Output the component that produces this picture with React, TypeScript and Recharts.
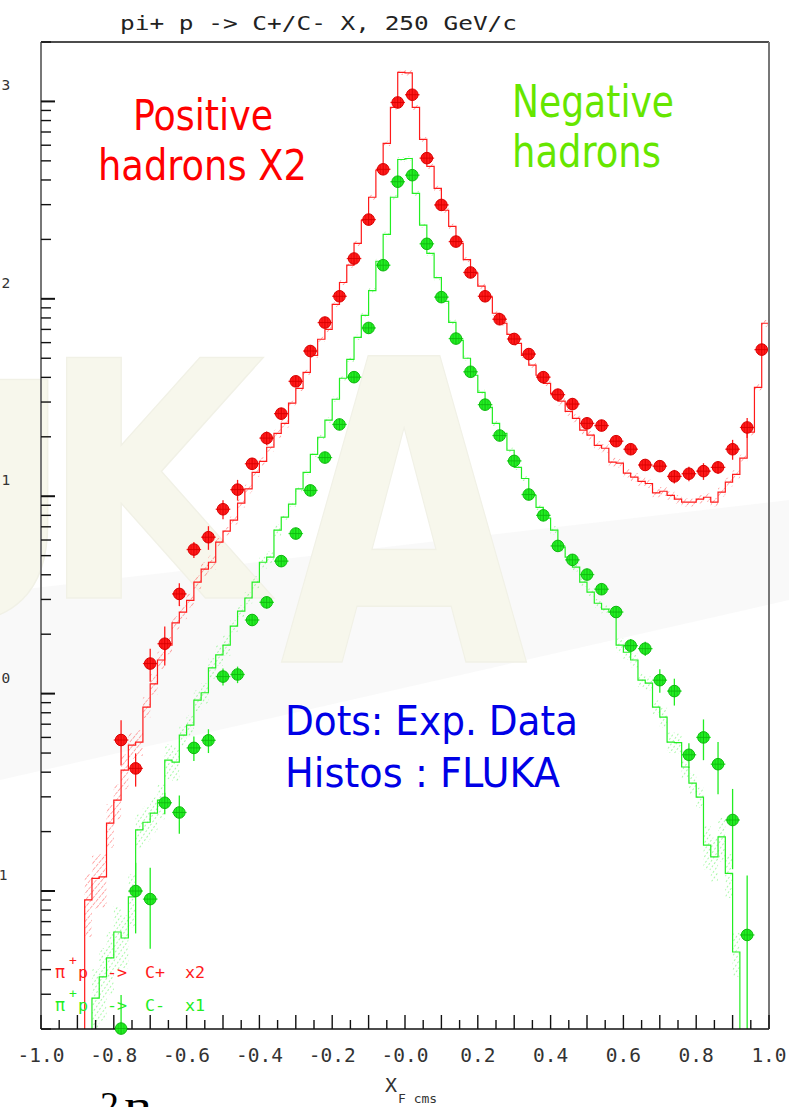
import { Area, ComposedChart, ErrorBar, Line, Scatter, XAxis, YAxis } from "recharts";

const W = 789;
const H = 1107;
const Y_MIN = 0.02;
const Y_MAX = 2000;
const BIN = 0.02;

// FLUKA histogram, positive hadrons (x2), 0.02 wide bins starting at x_F = -0.88
const posHistStart = -0.88;
const posHist = [
  0.0901, 0.116, 0.118, 0.221, 0.289, 0.41, 0.548, 0.568, 0.855, 1.12,
  1.48, 1.76, 2.28, 2.59, 2.97, 3.67, 4.27, 4.63, 5.85, 6.65,
  7.56, 9.22, 10.9, 13.2, 15.0, 17.7, 20.8, 23.4, 29.6, 35.2,
  42.4, 51.7, 62.4, 70.1, 93.8, 121, 148, 191, 250, 327,
  448, 613, 932, 1402, 1395, 932, 642, 469, 363, 281,
  233, 191, 158, 135, 116, 102, 84.5, 75.2, 66.1, 59.5,
  51.7, 46.1, 41.0, 37.3, 33.2, 30.3, 26.9, 24.8, 21.6, 20.4,
  18.1, 17.5, 14.9, 14.7, 13.1, 12.5, 11.9, 11.6, 10.4, 10.6,
  10.1, 9.66, 9.33, 9.33, 9.66, 9.88, 9.33, 10.5, 11.8, 12.9,
  15.6, 21.1, 35.6, 75.2,
];
// relative half-width of the statistical band for each bin
const posHistErr = [
  0.35, 0.3, 0.3, 0.25, 0.2, 0.2, 0.15, 0.15, 0.12, 0.12,
  0.1, 0.1, 0.08, 0.08, 0.08, 0.08, 0.08, 0.08, 0.05, 0.05,
  0.05, 0.05, 0.05, 0.05, 0.05, 0.05, 0.05, 0.05, 0.03, 0.03,
  0.03, 0.03, 0.03, 0.03, 0.03, 0.03, 0.03, 0.03, 0.03, 0.03,
  0.03, 0.03, 0.03, 0.03, 0.03, 0.03, 0.03, 0.03, 0.03, 0.03,
  0.03, 0.03, 0.03, 0.03, 0.03, 0.03, 0.03, 0.03, 0.03, 0.03,
  0.03, 0.03, 0.03, 0.03, 0.03, 0.05, 0.05, 0.05, 0.05, 0.05,
  0.05, 0.05, 0.05, 0.05, 0.05, 0.05, 0.05, 0.05, 0.05, 0.05,
  0.05, 0.05, 0.05, 0.05, 0.05, 0.05, 0.05, 0.05, 0.05, 0.05,
  0.04, 0.04, 0.04, 0.04,
];

// FLUKA histogram, negative hadrons, 0.02 wide bins starting at x_F = -0.86
const negHistStart = -0.86;
const negHist = [
  0.0287, 0.0367, 0.0458, 0.062, 0.0578, 0.0933, 0.204, 0.223, 0.248, 0.289,
  0.46, 0.45, 0.616, 0.693, 0.927, 1.01, 1.35, 1.57, 1.76, 2.2,
  2.62, 3.05, 3.67, 4.63, 4.91, 6.73, 7.83, 9.11, 10.9, 13.2,
  16.3, 19.9, 24.3, 31.0, 39.6, 49.4, 63.8, 82.5, 110, 155,
  212, 327, 508, 514, 342, 236, 170, 128, 97.1, 76.0,
  61.6, 50.0, 41.0, 33.6, 28.2, 23.4, 20.8, 17.1, 14.0, 12.3,
  10.1, 8.79, 7.74, 6.73, 5.52, 4.91, 4.37, 3.67, 3.27, 2.87,
  2.68, 2.59, 1.76, 1.62, 1.48, 1.17, 1.13, 0.855, 0.76, 0.568,
  0.565, 0.425, 0.352, 0.299, 0.171, 0.149, 0.188, 0.123, 0.0491,
];
const negHistErr = [
  0.4, 0.4, 0.35, 0.35, 0.3, 0.3, 0.2, 0.2, 0.2, 0.2,
  0.2, 0.2, 0.12, 0.12, 0.12, 0.12, 0.12, 0.12, 0.12, 0.07,
  0.07, 0.07, 0.07, 0.07, 0.07, 0.07, 0.03, 0.03, 0.03, 0.03,
  0.03, 0.03, 0.03, 0.03, 0.03, 0.03, 0.03, 0.03, 0.03, 0.03,
  0.03, 0.03, 0.03, 0.03, 0.03, 0.03, 0.03, 0.03, 0.03, 0.03,
  0.03, 0.03, 0.03, 0.03, 0.03, 0.03, 0.03, 0.03, 0.03, 0.03,
  0.03, 0.03, 0.03, 0.05, 0.05, 0.05, 0.05, 0.05, 0.05, 0.05,
  0.05, 0.05, 0.08, 0.08, 0.08, 0.08, 0.08, 0.08, 0.12, 0.12,
  0.12, 0.12, 0.12, 0.12, 0.25, 0.25, 0.25, 0.25, 0.25,
];

// measured points, bin centres in x_F
const pointX = [
  -0.78, -0.74, -0.7, -0.66, -0.62, -0.58, -0.54, -0.5, -0.46, -0.42,
  -0.38, -0.34, -0.3, -0.26, -0.22, -0.18, -0.14, -0.1, -0.06, -0.02,
  0.02, 0.06, 0.1, 0.14, 0.18, 0.22, 0.26, 0.3, 0.34, 0.38,
  0.42, 0.46, 0.5, 0.54, 0.58, 0.62, 0.66, 0.7, 0.74, 0.78,
  0.82, 0.86, 0.9, 0.94, 0.98,
];
const posValues = [
  0.582, 0.418, 1.42, 1.79, 3.2, 5.37, 6.2, 8.59, 10.8, 14.6,
  19.7, 26.2, 38.2, 54.4, 75.8, 103, 160, 252, 453, 988,
  1081, 516, 299, 195, 136, 103, 78.8, 62.6, 52.5, 40.1,
  32.7, 29.3, 23.4, 22.8, 19.0, 17.3, 14.4, 14.2, 12.6, 13.0,
  13.4, 14.0, 17.3, 22.3, 55.3,
];
const posErrors = [
  0.15, 0.08, 0.27, 0.4, 0.42, 0.5, 0.85, 0.95, 1.3, 1.0,
  1.6, 1.8, 1.5, 2.0, 2.5, 3.5, 5, 8, 14, 30,
  33, 16, 9, 6, 4, 3, 2.5, 2, 1.7, 1.3,
  1.1, 1.0, 0.8, 0.8, 0.7, 0.7, 0.6, 0.6, 1.0, 1.1,
  1.3, 1.0, 2.0, 2.6, 4,
];
const negValues = [
  0.0201, 0.1, 0.091, 0.28, 0.25, 0.531, 0.58, 1.22, 1.25, 2.36,
  2.9, 4.69, 6.47, 10.7, 15.7, 23.1, 40.1, 71.2, 148, 392,
  423, 190, 102, 62.9, 42.7, 29.1, 20.3, 15.1, 10.2, 8.0,
  5.6, 4.76, 4.01, 3.38, 2.59, 1.75, 1.69, 1.17, 1.03, 0.49,
  0.6, 0.439, 0.229, 0.0599,
];
const negErrors = [
  0.0096, 0.039, 0.04, 0.035, 0.055, 0.075, 0.08, 0.12, 0.12, 0.15,
  0.2, 0.25, 0.3, 0.4, 0.5, 0.7, 1.2, 2, 4, 10,
  11, 5, 3, 2, 1.3, 0.9, 0.7, 0.5, 0.4, 0.3,
  0.25, 0.25, 0.2, 0.2, 0.15, 0.14, 0.14, 0.16, 0.16, 0.07,
  0.14, 0.13, 0.1, 0.06,
];

const xLabelValues = [-1, -0.8, -0.6, -0.4, -0.2, 0, 0.2, 0.4, 0.6, 0.8, 1];
const xLabelText = ["-1.0", "-0.8", "-0.6", "-0.4", "-0.2", "-0.0", "0.2", "0.4", "0.6", "0.8", "1.0"];
const yDecades = [0.01, 0.1, 1, 10, 100, 1000];
const yMantissas = [1, 2, 3, 4, 5, 6, 7, 8, 9];

const RED = "#ff1a1a";
const RED_EDGE = "#d80000";
const GREEN = "#22ee22";
const GREEN_EDGE = "#10b810";
const MONO = "DejaVu Sans Mono";

const round3 = (v: number) => Math.round(v * 1000) / 1000;

const xTicks = Array.from({ length: 41 }, (_, i) => round3(-1 + i * 0.05));
const yTicks = yDecades
  .flatMap((d) => yMantissas.map((m) => Number((d * m).toPrecision(2))))
  .filter((v) => v >= Y_MIN && v <= Y_MAX);

type StepPoint = { x: number; y: number; band: [number, number] };

// step outline of a histogram, opened from the axis floor on the left
function histSteps(start: number, values: number[], rel: number[], closeRight: boolean) {
  const band = (v: number, e: number): [number, number] => [Math.max(Y_MIN, v * (1 - e)), v * (1 + e)];
  const pts: StepPoint[] = [{ x: round3(start), y: Y_MIN, band: [Y_MIN, Y_MIN] }];
  values.forEach((v, i) => pts.push({ x: round3(start + i * BIN), y: v, band: band(v, rel[i]) }));
  const last = values.length - 1;
  const end = round3(start + values.length * BIN);
  pts.push({ x: end, y: values[last], band: band(values[last], rel[last]) });
  if (closeRight) pts.push({ x: end, y: Y_MIN, band: [Y_MIN, Y_MIN] });
  return pts;
}

function points(vals: number[], errs: number[]) {
  return vals.map((v, i) => ({
    x: pointX[i],
    y: v,
    ex: BIN,
    ey: [Math.min(errs[i], v - Y_MIN), errs[i]],
  }));
}

const posSteps = histSteps(posHistStart, posHist, posHistErr, false);
const negSteps = histSteps(negHistStart, negHist, negHistErr, true);
const posPoints = points(posValues, posErrors);
const negPoints = points(negValues, negErrors);

function makeMarker(fill: string, edge: string) {
  return (props: any) => {
    const { cx, cy } = props;
    if (cx == null || cy == null) return <g />;
    const r = 5.8;
    return (
      <g>
        <circle cx={cx} cy={cy} r={r} fill={fill} stroke={edge} strokeWidth={1} />
        <line x1={cx - r} x2={cx + r} y1={cy} y2={cy} stroke={edge} strokeWidth={0.9} />
        <line x1={cx} x2={cx} y1={cy - r} y2={cy + r} stroke={edge} strokeWidth={0.9} />
        <line x1={cx - 2.8} x2={cx - 2.8} y1={cy - 4.9} y2={cy + 4.9} stroke={edge} strokeWidth={0.5} />
        <line x1={cx + 2.8} x2={cx + 2.8} y1={cy - 4.9} y2={cy + 4.9} stroke={edge} strokeWidth={0.5} />
      </g>
    );
  };
}

const isTenth = (v: number) => Math.abs(v * 10 - Math.round(v * 10)) < 1e-6;
const isDecade = (v: number) => Math.abs(Math.log10(v) - Math.round(Math.log10(v))) < 1e-6;

// tickSize/tickMargin are 0, so every tick renderer receives the axis-line position
function BottomTick(props: any) {
  const { x, y, payload } = props;
  const v = payload.value;
  const li = xLabelValues.findIndex((l) => Math.abs(l - v) < 1e-6);
  return (
    <g>
      <line x1={x} x2={x} y1={y} y2={y - (isTenth(v) ? 14 : 9)} stroke="#111" strokeWidth={1.4} />
      {li >= 0 && (
        <text x={x} y={y + 33} textAnchor="middle" fontFamily={MONO} fontSize={19.5} fill="#333">
          {xLabelText[li]}
        </text>
      )}
    </g>
  );
}

function TopTick(props: any) {
  const { x, y, payload } = props;
  return <line x1={x} x2={x} y1={y} y2={y + (isTenth(payload.value) ? 13 : 11)} stroke="#111" strokeWidth={1.4} />;
}

function LeftTick(props: any) {
  const { x, y, payload } = props;
  const v = payload.value;
  const major = isDecade(v);
  const exp = Math.round(Math.log10(v));
  const expX = exp < 0 ? x - 51 : x - 39.5;
  return (
    <g>
      <line x1={x} x2={x + (major ? 14 : 10)} y1={y} y2={y} stroke="#111" strokeWidth={major ? 2 : 1.4} />
      {major && (
        <g fontFamily={MONO} fill="#333">
          <text x={expX - 1} y={y + 6} textAnchor="end" fontSize={19.5}>10</text>
          <text x={expX} y={y - 11} fontSize={14.5}>{exp}</text>
        </g>
      )}
    </g>
  );
}

function RightTick(props: any) {
  const { x, y, payload } = props;
  const major = isDecade(payload.value);
  return <line x1={x} x2={x - (major ? 14 : 10)} y1={y} y2={y} stroke="#111" strokeWidth={major ? 2 : 1.4} />;
}

const layer = { position: "absolute" as const, left: 0, top: 0 };

export default function App() {
  return (
    <div style={{ ...layer, width: W, height: H, background: "#fff" }}>
      <svg width={W} height={H} style={layer}>
        <defs>
          <pattern id="hatchPos" width="4.5" height="4.5" patternUnits="userSpaceOnUse" patternTransform="rotate(40)">
            <line x1="0" y1="0" x2="0" y2="4.5" stroke={RED} strokeWidth="1.2" strokeDasharray="3.5 1.5" />
          </pattern>
          <pattern id="hatchNeg" width="4" height="4" patternUnits="userSpaceOnUse" patternTransform="rotate(35)">
            <line x1="0" y1="0" x2="0" y2="4" stroke={GREEN} strokeWidth="1.3" strokeDasharray="2 2" />
          </pattern>
        </defs>
        {/* faint logo in the background */}
        <polygon points="0,592 789,500 789,600 0,780" fill="#eeeeee" opacity={0.35} />
        <g fill="#f7f7ec" stroke="#f1f1e6" strokeWidth={1.5} fontFamily="DejaVu Sans" fontWeight="bold">
          <text x={-190} y={620} fontSize={330}>U</text>
          <text x={40} y={598} fontSize={330} textLength={225} lengthAdjust="spacingAndGlyphs">K</text>
          <text x={280} y={662} fontSize={420} textLength={248} lengthAdjust="spacingAndGlyphs">A</text>
        </g>
      </svg>

      <div style={layer}>
        <ComposedChart width={W} height={H} margin={{ top: 22, right: 10, bottom: 48, left: 21 }}>
          <XAxis
            dataKey="x"
            type="number"
            domain={[-1, 1]}
            ticks={xTicks}
            interval={0}
            height={30}
            tickSize={0}
            tickMargin={0}
            tickLine={false}
            tick={(p: any) => <BottomTick {...p} />}
            axisLine={{ stroke: "#111", strokeWidth: 1.6 }}
          />
          <XAxis
            xAxisId="top"
            orientation="top"
            dataKey="x"
            type="number"
            domain={[-1, 1]}
            ticks={xTicks}
            interval={0}
            height={20}
            tickSize={0}
            tickMargin={0}
            tickLine={false}
            tick={(p: any) => <TopTick {...p} />}
            axisLine={{ stroke: "#111", strokeWidth: 1.6 }}
          />
          <YAxis
            dataKey="y"
            type="number"
            scale="log"
            domain={[Y_MIN, Y_MAX]}
            ticks={yTicks}
            interval={0}
            width={20}
            tickSize={0}
            tickMargin={0}
            tickLine={false}
            tick={(p: any) => <LeftTick {...p} />}
            axisLine={{ stroke: "#777", strokeWidth: 2 }}
          />
          <YAxis
            yAxisId="right"
            orientation="right"
            type="number"
            scale="log"
            domain={[Y_MIN, Y_MAX]}
            ticks={yTicks}
            interval={0}
            width={10}
            tickSize={0}
            tickMargin={0}
            tickLine={false}
            tick={(p: any) => <RightTick {...p} />}
            axisLine={{ stroke: "#777", strokeWidth: 2 }}
          />

          <Area data={posSteps} dataKey="band" type="stepAfter" stroke="none" fill="url(#hatchPos)" isAnimationActive={false} />
          <Area data={negSteps} dataKey="band" type="stepAfter" stroke="none" fill="url(#hatchNeg)" isAnimationActive={false} />
          <Line data={posSteps} dataKey="y" type="stepAfter" stroke={RED} strokeWidth={1.2} dot={false} activeDot={false} isAnimationActive={false} />
          <Line data={negSteps} dataKey="y" type="stepAfter" stroke={GREEN} strokeWidth={1.2} dot={false} activeDot={false} isAnimationActive={false} />

          <Scatter data={posPoints} dataKey="y" shape={makeMarker(RED, RED_EDGE)} isAnimationActive={false}>
            <ErrorBar dataKey="ey" direction="y" width={0} stroke={RED} strokeWidth={1.3} />
            <ErrorBar dataKey="ex" direction="x" width={0} stroke={RED} strokeWidth={1.3} />
          </Scatter>
          <Scatter data={negPoints} dataKey="y" shape={makeMarker(GREEN, GREEN_EDGE)} isAnimationActive={false}>
            <ErrorBar dataKey="ey" direction="y" width={0} stroke={GREEN} strokeWidth={1.3} />
            <ErrorBar dataKey="ex" direction="x" width={0} stroke={GREEN} strokeWidth={1.3} />
          </Scatter>
        </ComposedChart>
      </div>

      <svg width={W} height={H} style={{ ...layer, pointerEvents: "none" }}>
        <text x={120} y={30} fontFamily={MONO} fontSize={19} fill="#222" textLength={397} lengthAdjust="spacingAndGlyphs">
          pi+ p -&gt; C+/C- X, 250 GeV/c
        </text>

        <g fontFamily="DejaVu Sans">
          <text x={133} y={130} fontSize={43} fill="#ff0000" textLength={140} lengthAdjust="spacingAndGlyphs">Positive</text>
          <text x={98} y={180} fontSize={43} fill="#ff0000" textLength={209} lengthAdjust="spacingAndGlyphs">hadrons X2</text>
          <text x={512} y={117} fontSize={44} fill="#66e600" textLength={162} lengthAdjust="spacingAndGlyphs">Negative</text>
          <text x={512} y={167} fontSize={44} fill="#66e600" textLength={149} lengthAdjust="spacingAndGlyphs">hadrons</text>
          <text x={285} y={735} fontSize={40} fill="#0000e6" textLength={293} lengthAdjust="spacingAndGlyphs">Dots: Exp. Data</text>
          <text x={285} y={787} fontSize={40} fill="#0000e6" textLength={275} lengthAdjust="spacingAndGlyphs">Histos : FLUKA</text>
        </g>

        <g fontFamily={MONO} fontSize={16.7}>
          <g fill={RED}>
            <text x={55} y={978}>π</text>
            <text x={69} y={965} fontSize={13}>+</text>
            <text x={78} y={978}>p</text>
            <text x={107} y={978}>-&gt;</text>
            <text x={145} y={978}>C+</text>
            <text x={185} y={978}>x2</text>
          </g>
          <g fill={GREEN}>
            <text x={55} y={1011}>π</text>
            <text x={69} y={998} fontSize={13}>+</text>
            <text x={78} y={1011}>p</text>
            <text x={107} y={1011}>-&gt;</text>
            <text x={145} y={1011}>C-</text>
            <text x={185} y={1011}>x1</text>
          </g>
        </g>

        <g fontFamily={MONO} fill="#333">
          <text x={385} y={1092} fontSize={20}>X</text>
          <text x={398} y={1103} fontSize={13}>F cms</text>
        </g>

        <g fontFamily="Liberation Serif" fill="#000" fontSize={38}>
          <text x={100} y={1118}>2</text>
          <text x={124} y={1118} textLength={28} lengthAdjust="spacingAndGlyphs">n</text>
        </g>
      </svg>
    </div>
  );
}
